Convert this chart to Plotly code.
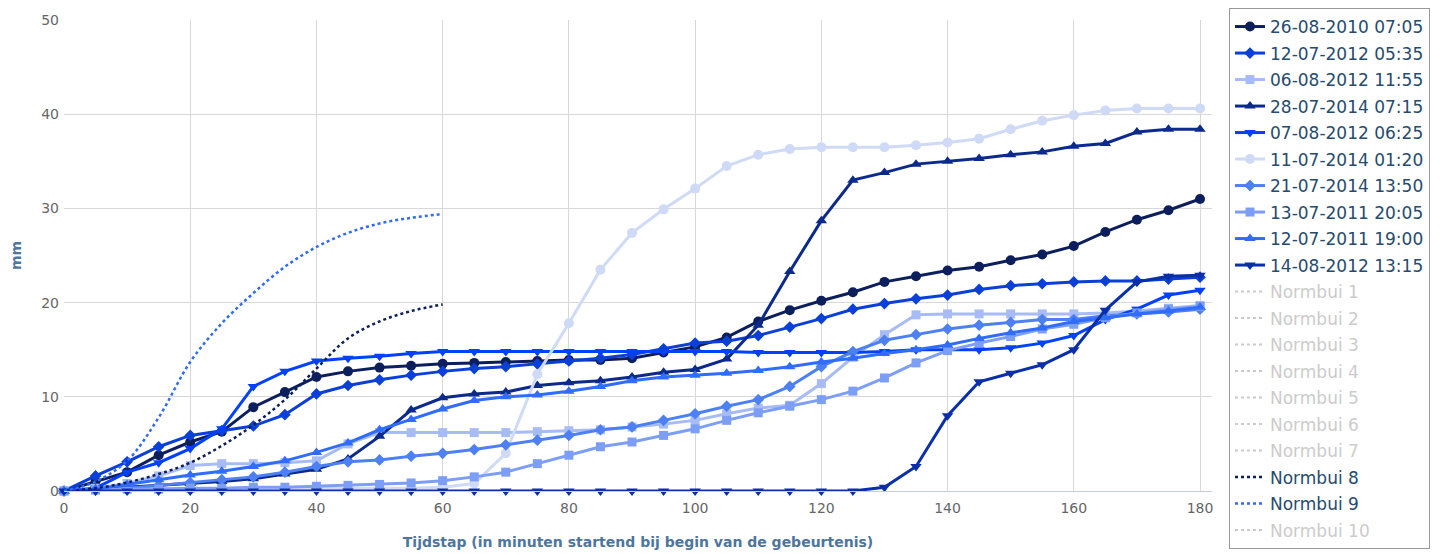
import plotly.graph_objects as go

minutes = [0, 5, 10, 15, 20, 25, 30, 35, 40, 45, 50, 55, 60, 65, 70, 75, 80, 85, 90,
           95, 100, 105, 110, 115, 120, 125, 130, 135, 140, 145, 150, 155, 160, 165,
           170, 175, 180]
norm_minutes = [0, 5, 10, 15, 20, 25, 30, 35, 40, 45, 50, 55, 60]

s_26_08_2010 = [0, 1.0, 2.0, 3.8, 5.2, 6.3, 8.9, 10.5, 12.1, 12.7, 13.1, 13.3, 13.5, 13.6, 13.7,
                13.8, 13.9, 13.9, 14.1, 14.7, 15.3, 16.3, 18.0, 19.2, 20.2, 21.1, 22.2, 22.8,
                23.4, 23.8, 24.5, 25.1, 26.0, 27.5, 28.8, 29.8, 31.0]
s_12_07_2012 = [0, 1.6, 3.1, 4.7, 5.9, 6.4, 6.9, 8.1, 10.3, 11.2, 11.8, 12.3, 12.7, 13.0, 13.2,
                13.5, 13.8, 14.1, 14.5, 15.1, 15.7, 15.9, 16.5, 17.4, 18.3, 19.3, 19.9, 20.4,
                20.8, 21.4, 21.8, 22.0, 22.2, 22.3, 22.3, 22.5, 22.7]
s_06_08_2012 = [0, 0.3, 0.8, 1.6, 2.7, 2.9, 2.9, 3.0, 3.2, 5.0, 6.2, 6.2, 6.2, 6.2, 6.2, 6.3,
                6.4, 6.5, 6.8, 7.1, 7.5, 8.2, 8.8, 9.1, 11.4, 14.2, 16.6, 18.7, 18.8, 18.8,
                18.8, 18.8, 18.8, 18.9, 19.1, 19.4, 19.7]
s_28_07_2014 = [0, 0.2, 0.4, 0.6, 0.8, 1.0, 1.3, 1.8, 2.3, 3.4, 5.8, 8.6, 9.9, 10.3, 10.5,
                11.2, 11.5, 11.7, 12.1, 12.6, 12.9, 14.0, 17.6, 23.3, 28.7, 33.0, 33.8, 34.7,
                35.0, 35.3, 35.7, 36.0, 36.6, 36.9, 38.1, 38.4, 38.4]
s_07_08_2012 = [0, 0.3, 2.0, 3.0, 4.5, 6.6, 11.1, 12.7, 13.8, 14.1, 14.3, 14.6, 14.8, 14.8,
                14.8, 14.8, 14.8, 14.8, 14.8, 14.8, 14.8, 14.8, 14.7, 14.7, 14.7, 14.7, 14.8,
                15.0, 15.0, 15.0, 15.2, 15.7, 16.5, 18.2, 19.3, 20.8, 21.3]
s_11_07_2014 = [0, 0.1, 0.1, 0.2, 0.2, 0.2, 0.3, 0.3, 0.3, 0.3, 0.3, 0.3, 0.4, 0.8, 4.0, 12.4,
                17.8, 23.5, 27.4, 29.9, 32.1, 34.5, 35.7, 36.3, 36.5, 36.5, 36.5, 36.7, 37.0,
                37.4, 38.4, 39.3, 39.9, 40.4, 40.6, 40.6, 40.6]
s_21_07_2014 = [0, 0.1, 0.3, 0.6, 0.9, 1.2, 1.5, 2.0, 2.6, 3.1, 3.3, 3.7, 4.0, 4.4, 4.9, 5.4,
                5.9, 6.5, 6.8, 7.5, 8.2, 9.0, 9.7, 11.1, 13.2, 14.8, 16.0, 16.6, 17.2, 17.6,
                17.9, 18.2, 18.2, 18.6, 18.8, 19.0, 19.3]
s_13_07_2011 = [0, 0.1, 0.2, 0.2, 0.3, 0.3, 0.4, 0.4, 0.5, 0.6, 0.7, 0.85, 1.1, 1.5, 2.0, 2.9,
                3.8, 4.7, 5.2, 5.9, 6.6, 7.5, 8.3, 9.0, 9.7, 10.6, 12.0, 13.6, 14.9, 15.7,
                16.4, 17.2, 17.7, 18.4, 18.9, 19.3, 19.6]
s_12_07_2011 = [0, 0.2, 0.7, 1.2, 1.7, 2.1, 2.6, 3.2, 4.1, 5.1, 6.5, 7.6, 8.7, 9.6, 10.0, 10.2,
                10.6, 11.1, 11.7, 12.1, 12.3, 12.5, 12.8, 13.2, 13.7, 14.1, 14.6, 15.0, 15.5,
                16.2, 16.8, 17.3, 18.0, 18.4, 18.8, 19.1, 19.5]
s_14_08_2012 = [0, 0, 0, 0, 0, 0, 0, 0, 0, 0, 0, 0, 0, 0, 0, 0, 0, 0, 0, 0, 0, 0, 0, 0, 0, 0,
                0.4, 2.6, 8.0, 11.6, 12.5, 13.4, 15.0, 19.2, 22.2, 22.8, 22.9]

normbui_8 = [0, 0.3, 0.9, 1.8, 3.0, 4.8, 7.0, 9.7, 13.0, 16.2, 18.0, 19.1, 19.8]
normbui_9 = [0, 1.0, 3.2, 7.8, 13.7, 17.8, 21.0, 23.8, 25.9, 27.4, 28.4, 29.0, 29.4]

series = [
    ("26-08-2010 07:05", s_26_08_2010, "#0c1f5c", "circle", 10),
    ("12-07-2012 05:35", s_12_07_2012, "#0a3fd8", "diamond", 9),
    ("06-08-2012 11:55", s_06_08_2012, "#a7bcf6", "square", 9),
    ("28-07-2014 07:15", s_28_07_2014, "#0b2a8c", "triangle-up", 10),
    ("07-08-2012 06:25", s_07_08_2012, "#0040ff", "triangle-down", 10),
    ("11-07-2014 01:20", s_11_07_2014, "#cfdaf6", "circle", 10),
    ("21-07-2014 13:50", s_21_07_2014, "#4d80f2", "diamond", 9),
    ("13-07-2011 20:05", s_13_07_2011, "#7d9ef6", "square", 9),
    ("12-07-2011 19:00", s_12_07_2011, "#2f6cff", "triangle-up", 10),
    ("14-08-2012 13:15", s_14_08_2012, "#0a2fa8", "triangle-down", 10),
]

fig = go.Figure()
for i, (name, vals, color, sym, size) in enumerate(series):
    fig.add_trace(go.Scatter(
        x=minutes, y=vals, name=name, mode="lines+markers",
        line=dict(color=color, width=3),
        marker=dict(color=color, symbol=sym, size=size),
        cliponaxis=False, legendgroup=f"g{i}"))

hidden_names = ["Normbui 1", "Normbui 2", "Normbui 3", "Normbui 4", "Normbui 5",
                "Normbui 6", "Normbui 7"]
for i, nm in enumerate(hidden_names):
    fig.add_trace(go.Scatter(
        x=[None], y=[None], mode="lines", visible="legendonly",
        name=f'<span style="color:#999999">{nm}</span>',
        line=dict(color="#999999", width=2, dash="dot"), legendgroup=f"h{i}"))

fig.add_trace(go.Scatter(
    x=norm_minutes, y=normbui_8, name="Normbui 8", mode="lines",
    line=dict(color="#0c1f5c", width=2.5, dash="dot", shape="spline"),
    legendgroup="n8"))
fig.add_trace(go.Scatter(
    x=norm_minutes, y=normbui_9, name="Normbui 9", mode="lines",
    line=dict(color="#2f6cf2", width=2.5, dash="dot", shape="spline"),
    legendgroup="n9"))
fig.add_trace(go.Scatter(
    x=[None], y=[None], mode="lines", visible="legendonly",
    name='<span style="color:#999999">Normbui 10</span>',
    line=dict(color="#999999", width=2, dash="dot"), legendgroup="n10"))

W, H = 1442, 546
title_color = "#4d759e"
fig.update_layout(
    width=W, height=H,
    margin=dict(l=56, r=238, t=12, b=63, autoexpand=False),
    paper_bgcolor="white", plot_bgcolor="white",
    font=dict(family="DejaVu Sans", size=14, color="#333333"),
    showlegend=True,
    legend=dict(
        xref="container", yref="container",
        x=1221 / W, y=1.0, xanchor="left", yanchor="top",
        bordercolor="#999999", borderwidth=1, bgcolor="white",
        font=dict(family="DejaVu Sans", size=17, color="#274b6d"),
        tracegroupgap=1.4, itemwidth=30, maxheight=1.0,
    ),
    xaxis=dict(
        range=[0, 181.9], tickvals=[0, 20, 40, 60, 80, 100, 120, 140, 160, 180],
        showgrid=True, gridcolor="#d8d8d8", gridwidth=1,
        showline=True, linecolor="#c0d0e0", linewidth=1,
        zeroline=False, ticks="", automargin=False, ticklabelstandoff=4,
        tickfont=dict(family="DejaVu Sans", size=14, color="#666666"),
        title=dict(text="<b>Tijdstap (in minuten startend bij begin van de gebeurtenis)</b>",
                   font=dict(family="DejaVu Sans", size=14, color=title_color), standoff=22),
    ),
    yaxis=dict(
        range=[0, 50], tickvals=[0, 10, 20, 30, 40, 50],
        showgrid=True, gridcolor="#d8d8d8", gridwidth=1,
        zeroline=False, showline=False, ticks="", automargin=False, ticklabelstandoff=4,
        tickfont=dict(family="DejaVu Sans", size=14, color="#666666"),
        title=dict(text="<b>mm</b>",
                   font=dict(family="DejaVu Sans", size=14, color=title_color), standoff=22),
    ),
)

fig.write_html("out.html")
